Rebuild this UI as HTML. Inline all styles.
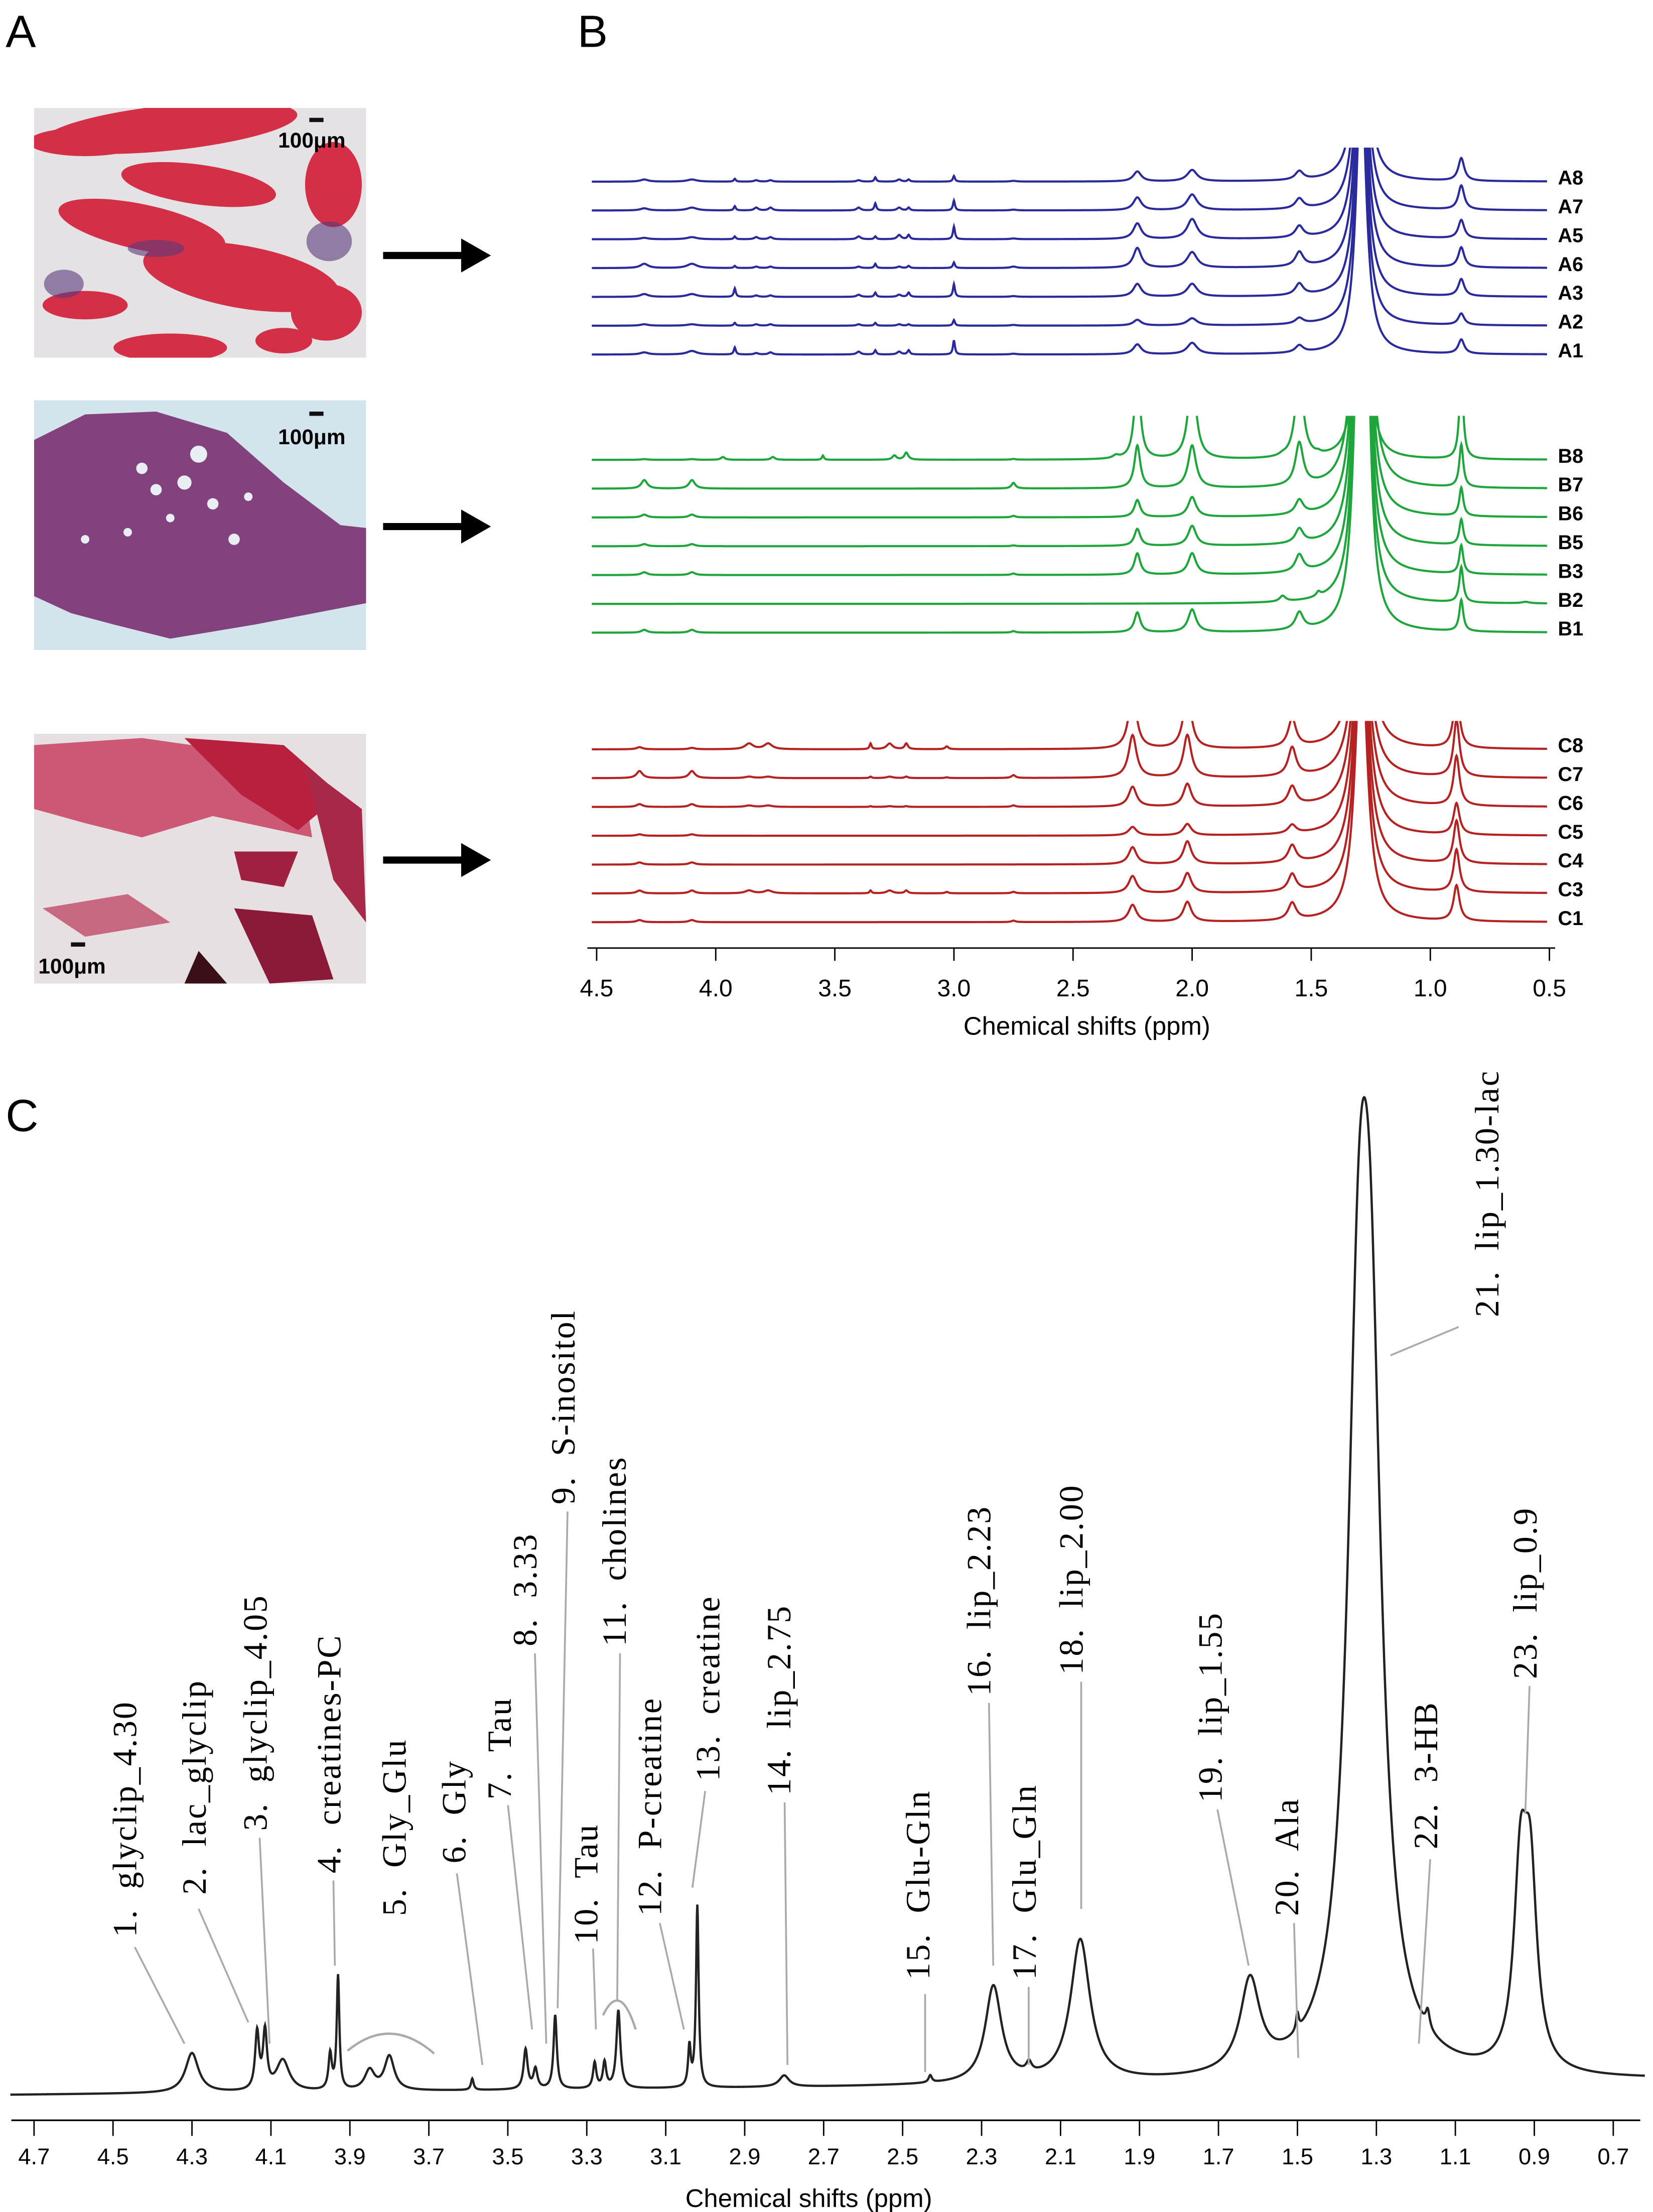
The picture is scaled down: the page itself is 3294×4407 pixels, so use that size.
<!DOCTYPE html>
<html><head><meta charset="utf-8"><style>
html,body{margin:0;padding:0;background:#fff;}
svg{display:block;}
.sans{font-family:"Liberation Sans",sans-serif;}
.serif{font-family:"Liberation Serif",serif;white-space:pre;}
</style></head><body>
<svg id="fig" width="3294" height="4407" viewBox="0 0 1165 1558.6" xmlns="http://www.w3.org/2000/svg">
<rect width="1165" height="1558.6" fill="#fff"/>
<defs>
<clipPath id="clipA"><rect x="400" y="104" width="700" height="160"/></clipPath>
<clipPath id="clipB"><rect x="400" y="293" width="700" height="165"/></clipPath>
<clipPath id="clipC"><rect x="400" y="508" width="700" height="150"/></clipPath>
<clipPath id="img1"><rect x="24" y="76" width="234" height="176"/></clipPath>
<clipPath id="img2"><rect x="24" y="282" width="234" height="176"/></clipPath>
<clipPath id="img3"><rect x="24" y="517" width="234" height="176"/></clipPath>
</defs>
<text class="sans" x="4" y="33" font-size="32">A</text>
<text class="sans" x="407" y="33" font-size="32">B</text>
<text class="sans" x="4" y="797" font-size="32">C</text>

<g clip-path="url(#img1)">
<rect x="24" y="76" width="234" height="176" fill="#e4e2e4"/>
<g fill="#d2203a" opacity="0.92">
<ellipse cx="120" cy="90" rx="90" ry="16" transform="rotate(-6 120 90)"/>
<ellipse cx="60" cy="100" rx="40" ry="10"/>
<ellipse cx="140" cy="130" rx="55" ry="14" transform="rotate(8 140 130)"/>
<ellipse cx="100" cy="160" rx="60" ry="16" transform="rotate(12 100 160)"/>
<ellipse cx="170" cy="195" rx="70" ry="22" transform="rotate(10 170 195)"/>
<ellipse cx="60" cy="215" rx="30" ry="10"/>
<ellipse cx="120" cy="245" rx="40" ry="10"/>
<ellipse cx="235" cy="130" rx="20" ry="30"/>
<ellipse cx="230" cy="220" rx="25" ry="20"/>
<ellipse cx="200" cy="240" rx="20" ry="9"/>
</g>
<g fill="#5a3a7a" opacity="0.6"><ellipse cx="232" cy="170" rx="16" ry="14"/><ellipse cx="45" cy="200" rx="14" ry="10"/><ellipse cx="110" cy="175" rx="20" ry="6"/></g>
</g>
<rect x="218" y="83" width="10" height="3" fill="#111"/>
<text class="sans" x="196" y="104" font-size="15" font-weight="bold">100μm</text>

<g clip-path="url(#img2)">
<rect x="24" y="282" width="234" height="176" fill="#d4e4ec"/>
<path d="M24 310 L60 292 L110 290 L160 305 L200 340 L240 370 L258 372 L258 425 L180 440 L120 450 L80 440 L50 432 L24 420 Z" fill="#82427e"/>
<g fill="#e8eef4"><circle cx="100" cy="330" r="4"/><circle cx="130" cy="340" r="5"/><circle cx="150" cy="355" r="4"/><circle cx="120" cy="365" r="3"/><circle cx="165" cy="380" r="4"/><circle cx="90" cy="375" r="3"/><circle cx="140" cy="320" r="6"/><circle cx="175" cy="350" r="3"/><circle cx="60" cy="380" r="3"/><circle cx="110" cy="345" r="4"/></g>
</g>
<rect x="218" y="290" width="10" height="3" fill="#111"/>
<text class="sans" x="196" y="313" font-size="15" font-weight="bold">100μm</text>

<g clip-path="url(#img3)">
<rect x="24" y="517" width="234" height="176" fill="#e6e0e2"/>
<path d="M24 525 L100 520 L170 530 L215 560 L220 590 L150 575 L100 590 L60 580 L24 570 Z" fill="#c84060" opacity="0.85"/>
<path d="M130 520 L200 525 L240 560 L210 585 L170 560 Z" fill="#b8203e"/>
<path d="M215 540 L255 570 L258 650 L235 620 Z" fill="#a82848"/>
<path d="M165 640 L220 645 L235 690 L190 693 Z" fill="#8a1a38"/>
<path d="M140 670 L160 693 L130 693 Z" fill="#3a1018"/>
<path d="M30 640 L90 630 L120 650 L60 660 Z" fill="#c04868" opacity="0.8"/>
<path d="M165 600 L210 600 L200 625 L170 620 Z" fill="#a02040"/>
</g>
<rect x="50" y="664" width="10" height="3" fill="#111"/>
<text class="sans" x="27" y="686" font-size="15" font-weight="bold">100μm</text>

<g><line x1="270" y1="180" x2="330" y2="180" stroke="#000" stroke-width="5"/><path d="M325 168 L346 180 L325 192 Z" fill="#000"/></g>
<g><line x1="270" y1="371" x2="330" y2="371" stroke="#000" stroke-width="5"/><path d="M325 359 L346 371 L325 383 Z" fill="#000"/></g>
<g><line x1="270" y1="606" x2="330" y2="606" stroke="#000" stroke-width="5"/><path d="M325 594 L346 606 L325 618 Z" fill="#000"/></g>

<g id="panelB"></g>
<g id="panelC"></g>
</svg>
<script>
// ---------- Panel B data ----------
const bTicks = [4.5,4.0,3.5,3.0,2.5,2.0,1.5,1.0,0.5];
const bTickLabels = ["4.5","4.0","3.5","3.0","2.5","2.0","1.5","1.0","0.5"];
const aPeaks = [4.30,4.10,3.92,3.83,3.77,3.40,3.33,3.23,3.19,3.00,2.75,2.23,2.00,1.55,1.29,0.87];
const aWidths = [0.02,0.025,0.005,0.01,0.01,0.01,0.005,0.01,0.006,0.005,0.015,0.02,0.025,0.02,0.025,0.015];
const aNames = ["A8","A7","A5","A6","A3","A2","A1"];
const aHeights = [
 [1.5,1.5,2,1,1,1,3,1.5,1.5,4,0.5,7,8,6,200,16],
 [1.5,2,3,2,2,2,5,2,2,7,0.5,9,11,7,200,17],
 [1,1.5,2,1.5,1.5,2,2,3,3,9,0.5,11,14,8,200,13],
 [3,3,1.5,1,1,1,3,1,1.5,4,1,14,11,10,200,14],
 [2,2,6,1,1,1.5,3,1.5,3,9,0.5,9,9,8,200,12],
 [1,1,2,1,1,1,2,1,1,4,0.5,4,5,4,200,8],
 [1.5,2.5,5,1,1.5,2,3,2,3,10,0.5,7,8,5,200,10]];
const gPeaks = [4.30,4.10,3.97,3.76,3.55,3.25,3.20,2.75,2.32,2.23,2.00,1.62,1.55,1.47,1.30,1.27,0.87,0.60];
const gWidths = [0.015,0.015,0.01,0.01,0.005,0.01,0.01,0.01,0.015,0.015,0.02,0.015,0.02,0.01,0.025,0.02,0.01,0.02];
const gNames = ["B8","B7","B6","B5","B3","B2","B1"];
const gHeights = [
 [0.5,0.5,2,2,3,3,5,0.5,2,60,60,1,60,1,100,100,60,0],
 [6,6,0,0,0,0,0,4,0,30,30,0,30,0,200,200,30,0],
 [2,2,0,0,0,0,0,1,0,12,14,0,10,0,200,200,20,0],
 [1.5,1.5,0,0,0,0,0,0.5,0,12,14,0,10,0,200,200,18,0],
 [2,2,0,0,0,0,0,1,0,15,15,0,12,0,200,200,20,0],
 [0,0,0,0,0,0,0,0,0,0,0,4,0,3,200,200,25,1],
 [2,2,0,0,0,0,0,1,0,14,16,0,12,0,200,200,22,0]];
const rPeaks = [4.32,4.10,3.86,3.78,3.35,3.27,3.20,3.03,2.75,2.25,2.02,1.58,1.29,0.89];
const rWidths = [0.015,0.015,0.02,0.02,0.005,0.015,0.008,0.008,0.01,0.02,0.02,0.02,0.03,0.015];
const rNames = ["C8","C7","C6","C5","C4","C3","C1"];
const rHeights = [
 [1.5,1,4,4,4,4,4,2,0,40,40,20,200,40],
 [5,5,1,1,1,1,1,0.5,2,30,30,20,200,40],
 [2,2,1,1,0.5,0.5,0.5,0,1,14,16,13,200,35],
 [1,1,0,0,0,0,0,0,0,6,8,6,200,22],
 [1.5,1.5,0,0,0,0,0,0,0,12,16,12,200,30],
 [2,2,2,2,2,2,2,1,1,12,14,12,200,30],
 [1.5,1.5,0,0,0,0,0,0,1,12,14,12,200,25]];

// ---------- Panel C data ----------
const cTicks = [4.7,4.5,4.3,4.1,3.9,3.7,3.5,3.3,3.1,2.9,2.7,2.5,2.3,2.1,1.9,1.7,1.5,1.3,1.1,0.9,0.7];
const cTickLabels = ["4.7","4.5","4.3","4.1","3.9","3.7","3.5","3.3","3.1","2.9","2.7","2.5","2.3","2.1","1.9","1.7","1.5","1.3","1.1","0.9","0.7"];
const cPeaks = [4.30,4.135,4.115,4.07,3.95,3.93,3.85,3.80,3.59,3.455,3.43,3.38,3.28,3.255,3.22,3.04,3.02,2.80,2.43,2.27,2.18,2.05,1.62,1.50,1.345,1.315,1.17,0.935,0.91];
const cHeights = [28,40,40,22,25,80,14,24,8,28,14,52,18,18,55,28,128,8,5,68,7,100,64,12,420,400,12,130,125];
const cWidths = [0.02,0.006,0.006,0.02,0.005,0.004,0.015,0.015,0.004,0.006,0.006,0.005,0.005,0.005,0.006,0.004,0.004,0.015,0.005,0.025,0.008,0.03,0.03,0.004,0.035,0.035,0.006,0.02,0.02];
const cLabels = ["1.  glyclip_4.30","2.  lac_glyclip","3.  glyclip_4.05","4.  creatines-PC","5.  Gly_Glu","6.  Gly","7.  Tau","8.  3.33","9.  S-inositol","10.  Tau","11.  cholines","12.  P-creatine","13.  creatine","14.  lip_2.75","15.  Glu-Gln","16.  lip_2.23","17.  Glu_Gln","18.  lip_2.00","19.  lip_1.55","20.  Ala","21.  lip_1.30-lac","22.  3-HB","23.  lip_0.9"];
const cLabelX = [88,137,180,232,278,320,352,370,397,413,433,458,499,549,647,690,722,755,853,907,1048,1005,1075];
const cLabelBottom = [1365,1335,1290,1320,1350,1313,1268,1160,1060,1370,1160,1350,1255,1265,1395,1195,1395,1180,1270,1350,928,1303,1183];
const cLeaders = [[95,1372,130,1440],[140,1345,175,1425],[183,1295,190,1440],[235,1325,236,1385],null,[322,1320,340,1455],[358,1272,375,1430],[377,1165,385,1440],[400,1065,393,1415],[418,1373,420,1430],[437,1165,435,1410],[465,1355,482,1430],[497,1262,488,1330],[553,1270,555,1455],[652,1405,652,1460],[697,1200,700,1385],[725,1400,725,1455],[762,1185,762,1345],[858,1275,880,1385],[912,1355,915,1450],[1028,935,980,955],[1008,1310,1000,1440],[1078,1188,1075,1278]];

const NS="http://www.w3.org/2000/svg";
function mk(tag, parent){const e=document.createElementNS(NS,tag);parent.appendChild(e);return e;}
function spectrumPath(peaks, widths, heights, xs, baseFn, p0, p1, step){
  let d="";
  for(let p=p0;p>=p1;p-=step){
    let s=0;
    for(let i=0;i<peaks.length;i++){const g=widths[i];const dx=p-peaks[i];s+=heights[i]*g*g/(dx*dx+g*g);}
    d+=(d?"L":"M")+xs(p).toFixed(2)+" "+(baseFn(p)-s).toFixed(2);
  }
  return d;
}
const pb=document.getElementById('panelB');
const xB=p=>420.5+(4.5-p)/4.0*(1092-420.5);
function drawGroup(names, heights, peaks, widths, color, firstBase, clip, grp){
  const g=mk('g',pb); g.setAttribute('clip-path','url(#'+clip+')');
  
  
  names.forEach((n,i)=>{
    const base=firstBase+i*20.3;
    const path=mk('path',g);
    
    
    path.setAttribute('d',spectrumPath(peaks,widths,heights[i],xB,()=>base,4.52,0.51,0.002));
    path.setAttribute('fill','none');path.setAttribute('stroke',color);path.setAttribute('stroke-width','1.5');
    const t=mk('text',pb);
    
    
    t.setAttribute('x',1098);t.setAttribute('y',base+2);t.setAttribute('class','sans');
    t.setAttribute('font-size','14');t.setAttribute('font-weight','bold');t.textContent=n;
  });
}
drawGroup(aNames,aHeights,aPeaks,aWidths,'#2a2a9c',128,'clipA','group-a');
drawGroup(gNames,gHeights,gPeaks,gWidths,'#1ea53c',324,'clipB','group-b');
drawGroup(rNames,rHeights,rPeaks,rWidths,'#b42222',528,'clipC','group-c');
const axB=mk('line',pb);


axB.setAttribute('x1',414);axB.setAttribute('x2',1096);axB.setAttribute('y1',668);axB.setAttribute('y2',668);axB.setAttribute('stroke','#000');axB.setAttribute('stroke-width','1');
bTicks.forEach((v,i)=>{
  const l=mk('line',pb);
  
  
  l.setAttribute('x1',xB(v));l.setAttribute('x2',xB(v));l.setAttribute('y1',668);l.setAttribute('y2',677);l.setAttribute('stroke','#000');
  const t=mk('text',pb);
  
  
  t.setAttribute('x',xB(v));t.setAttribute('y',702);t.setAttribute('text-anchor','middle');t.setAttribute('class','sans');t.setAttribute('font-size','17');t.textContent=bTickLabels[i];
});
const tB=mk('text',pb);


tB.setAttribute('x',766);tB.setAttribute('y',729);tB.setAttribute('text-anchor','middle');tB.setAttribute('class','sans');tB.setAttribute('font-size','18');tB.textContent='Chemical shifts (ppm)';

const pc=document.getElementById('panelC');
const xC=p=>24+(4.7-p)/4.0*(1137-24);
const baseC=p=>1466+(p-0.7)/4.0*10;
const sp=mk('path',pc);


sp.setAttribute('d',spectrumPath(cPeaks,cWidths,cHeights,xC,baseC,4.76,0.62,0.001));
sp.setAttribute('fill','none');sp.setAttribute('stroke','#222');sp.setAttribute('stroke-width','1.6');
cLeaders.forEach((L,i)=>{
  if(!L) return;
  const l=mk('line',pc);
  
  
  l.setAttribute('x1',L[0]);l.setAttribute('y1',L[1]);l.setAttribute('x2',L[2]);l.setAttribute('y2',L[3]);
  l.setAttribute('stroke','#aaa');l.setAttribute('stroke-width','1.3');
});
const arc1=mk('path',pc);


arc1.setAttribute('d','M245 1445 Q275 1420 306 1447');arc1.setAttribute('fill','none');arc1.setAttribute('stroke','#aaa');arc1.setAttribute('stroke-width','1.6');
const arc2=mk('path',pc);


arc2.setAttribute('d','M425 1420 Q437 1395 448 1430');arc2.setAttribute('fill','none');arc2.setAttribute('stroke','#aaa');arc2.setAttribute('stroke-width','1.6');
cLabels.forEach((s,i)=>{
  const t=mk('text',pc);
  
  
  t.setAttribute('class','serif');t.setAttribute('font-size','24');t.setAttribute('letter-spacing','1');
  t.setAttribute('transform','translate('+(cLabelX[i]+8)+','+cLabelBottom[i]+') rotate(-90)');
  t.textContent=s;
});
const axC=mk('line',pc);


axC.setAttribute('x1',8);axC.setAttribute('x2',1156);axC.setAttribute('y1',1494);axC.setAttribute('y2',1494);axC.setAttribute('stroke','#000');axC.setAttribute('stroke-width','1.2');
cTicks.forEach((v,i)=>{
  const l=mk('line',pc);
  
  
  l.setAttribute('x1',xC(v));l.setAttribute('x2',xC(v));l.setAttribute('y1',1494);l.setAttribute('y2',1505);l.setAttribute('stroke','#000');
  const t=mk('text',pc);
  
  
  t.setAttribute('x',xC(v));t.setAttribute('y',1525);t.setAttribute('text-anchor','middle');t.setAttribute('class','sans');t.setAttribute('font-size','16');t.textContent=cTickLabels[i];
});
const tC=mk('text',pc);


tC.setAttribute('x',570);tC.setAttribute('y',1555);tC.setAttribute('text-anchor','middle');tC.setAttribute('class','sans');tC.setAttribute('font-size','18');tC.textContent='Chemical shifts (ppm)';
</script>
</body></html>
